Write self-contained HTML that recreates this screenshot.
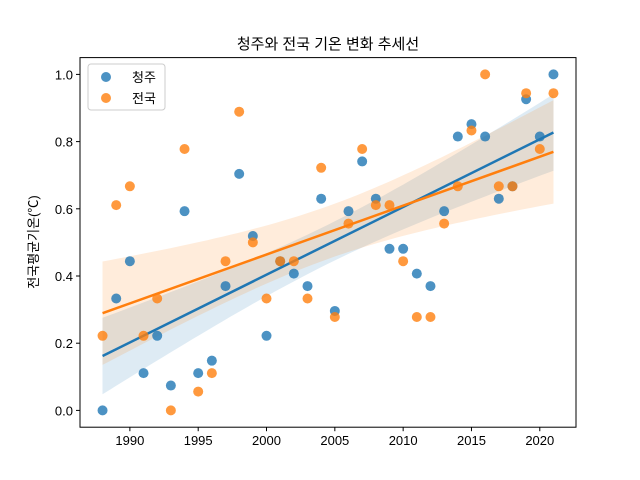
<!DOCTYPE html>
<html><head><meta charset="utf-8"><style>
html,body{margin:0;padding:0;background:#fff;}
svg{display:block;font-family:"Liberation Sans","Noto Sans CJK KR",sans-serif;}
</style></head><body>
<svg id="chart" width="640" height="480" viewBox="0 0 640 480" xmlns="http://www.w3.org/2000/svg">
<rect width="640" height="480" fill="#fff"/>
<text x="328" y="49" text-anchor="middle" font-size="15" fill="#000">청주와 전국 기온 변화 추세선</text>
<text transform="translate(38,242) rotate(-90)" text-anchor="middle" font-size="13" fill="#000">전국평균기온(℃)</text>
<g id="bands"></g><g id="lines"></g><g id="points"></g><g id="axes"></g>
<g>
<rect x="88" y="64" width="77" height="46" rx="3" fill="#fff" fill-opacity="0.8" stroke="#ccc"/>
<circle cx="106" cy="77" r="5" fill="#1f77b4" fill-opacity="0.8"/>
<text x="132" y="82" font-size="13">청주</text>
<circle cx="106" cy="98" r="5" fill="#ff7f0e" fill-opacity="0.8"/>
<text x="132" y="103" font-size="13">전국</text>
</g>
</svg>
<script>
const years = [1988,1989,1990,1991,1992,1993,1994,1995,1996,1997,1998,1999,2000,2001,2002,2003,2004,2005,2006,2007,2008,2009,2010,2011,2012,2013,2014,2015,2016,2017,2018,2019,2020,2021];
const cheongju = [0,0.333,0.444,0.111,0.222,0.074,0.593,0.111,0.148,0.370,0.704,0.519,0.222,0.444,0.407,0.370,0.630,0.296,0.593,0.741,0.630,0.481,0.481,0.407,0.370,0.593,0.815,0.852,0.815,0.630,0.667,0.926,0.815,1.0];
const national = [0.222,0.611,0.667,0.222,0.333,0,0.778,0.056,0.111,0.444,0.889,0.5,0.333,0.444,0.444,0.333,0.722,0.278,0.556,0.778,0.611,0.611,0.444,0.278,0.278,0.556,0.667,0.833,1.0,0.667,0.667,0.944,0.778,0.944];
const xTicks = [1990,1995,2000,2005,2010,2015,2020];
const yTicks = [0.0,0.2,0.4,0.6,0.8,1.0];

const L=80,R=576,T=57.6,B=427.2;
const x0=1986.35,x1=2022.65,y0=-0.05,y1=1.05;
const X=v=>L+(v-x0)/(x1-x0)*(R-L);
const Y=v=>B-(v-y0)/(y1-y0)*(B-T);
const NS="http://www.w3.org/2000/svg";
function mk(tag,attrs,parent){const e=document.createElementNS(NS,tag);for(const k in attrs)e.setAttribute(k,attrs[k]);parent.appendChild(e);return e;}

function fit(xs,ys){
  const n=xs.length,mx=xs.reduce((a,b)=>a+b)/n,my=ys.reduce((a,b)=>a+b)/n;
  let sxx=0,sxy=0;for(let i=0;i<n;i++){sxx+=(xs[i]-mx)**2;sxy+=(xs[i]-mx)*(ys[i]-my);}
  const b=sxy/sxx,a=my-b*mx;let sse=0;for(let i=0;i<n;i++)sse+=(ys[i]-a-b*xs[i])**2;
  const s=Math.sqrt(sse/(n-2));return {a,b,s,mx,sxx,n};
}
const series=[{name:'cheongju',vals:cheongju,color:'#1f77b4'},{name:'national',vals:national,color:'#ff7f0e'}];
const bands=document.getElementById('bands'),lines=document.getElementById('lines'),pts=document.getElementById('points');
series.forEach(s=>{
  const f=fit(years,s.vals);const t=2.04;
  const xa=years[0],xb=years[years.length-1];let up=[],lo=[];
  for(let k=0;k<=60;k++){const xv=xa+(xb-xa)*k/60;const yh=f.a+f.b*xv;const se=f.s*Math.sqrt(1/f.n+(xv-f.mx)**2/f.sxx);
    up.push(X(xv).toFixed(1)+','+Y(yh+t*se).toFixed(1));lo.unshift(X(xv).toFixed(1)+','+Y(yh-t*se).toFixed(1));}
  const band=mk('polygon',{points:up.concat(lo).join(' '),fill:s.color,'fill-opacity':0.15},bands);
  
  
  const ln=mk('line',{x1:X(xa),y1:Y(f.a+f.b*xa),x2:X(xb),y2:Y(f.a+f.b*xb),stroke:s.color,'stroke-width':2.5},lines);
  
  
  years.forEach((yr,i)=>{
    const c=mk('circle',{cx:X(yr),cy:Y(s.vals[i]),r:5,fill:s.color,'fill-opacity':0.8},pts);
    
    
  });
});
const ax=document.getElementById('axes');
const fr=mk('rect',{x:L,y:T,width:R-L,height:B-T,fill:'none',stroke:'#000','stroke-width':1},ax);


xTicks.forEach(v=>{
  mk('line',{x1:X(v),y1:B,x2:X(v),y2:B+4,stroke:'#000'},ax);
  const t=mk('text',{x:X(v),y:B+18,'text-anchor':'middle','font-size':13},ax);t.textContent=v;
  
  
});
yTicks.forEach(v=>{
  mk('line',{x1:L-4,y1:Y(v),x2:L,y2:Y(v),stroke:'#000'},ax);
  const t=mk('text',{x:L-7,y:Y(v)+5,'text-anchor':'end','font-size':13},ax);t.textContent=v.toFixed(1);
  
  
});
</script>
</body></html>
